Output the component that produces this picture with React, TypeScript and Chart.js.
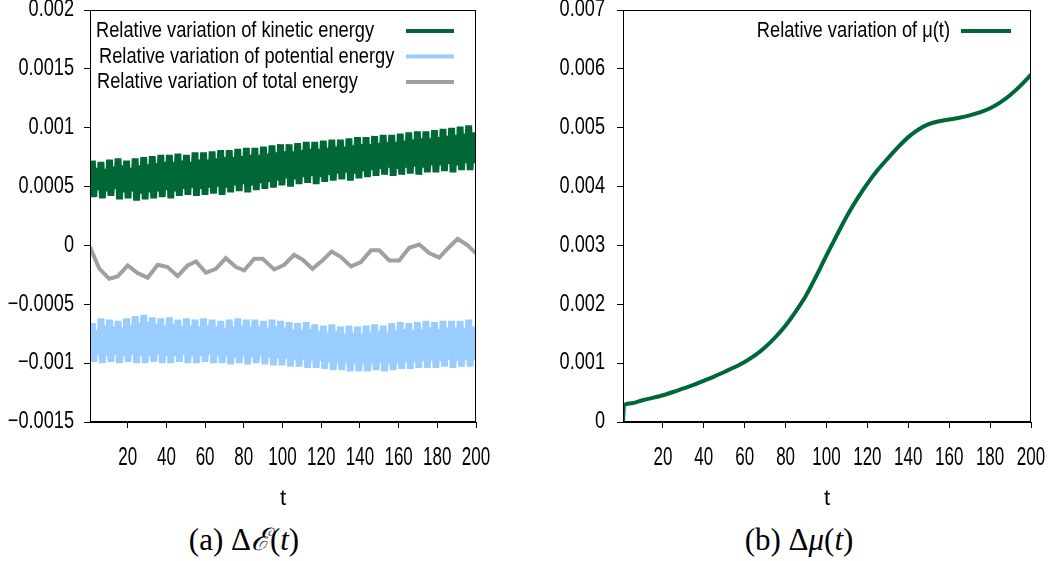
import React, { useEffect, useRef } from 'react';
import { Chart, registerables } from 'chart.js';

Chart.register(...registerables);

// ---------- data ----------
const T_START = 0.5;
const T_END = 200;
const xTicks = [20, 40, 60, 80, 100, 120, 140, 160, 180, 200];

const energyYTicks = [-0.0015, -0.001, -0.0005, 0, 0.0005, 0.001, 0.0015, 0.002];
const energyYLabels = ['−0.0015', '−0.001', '−0.0005', '0', '0.0005', '0.001', '0.0015', '0.002'];
const muYTicks = [0, 0.001, 0.002, 0.003, 0.004, 0.005, 0.006, 0.007];
const muYLabels = ['0', '0.001', '0.002', '0.003', '0.004', '0.005', '0.006', '0.007'];

// sampling of the fast oscillation of the kinetic / potential series
const oscPeriod = 4.42;
const oscFirstT = 1.0;

// tooth tips (outer envelope) per oscillation period
const kineticHigh = [0.00072, 0.00071, 0.00073, 0.00074, 0.00072, 0.00074, 0.00075, 0.00076, 0.00077, 0.00077,
  0.00078, 0.00077, 0.00079, 0.00079, 0.0008, 0.00081, 0.00081, 0.00082, 0.00083, 0.00083,
  0.00084, 0.00085, 0.00086, 0.00086, 0.00087, 0.00088, 0.00088, 0.00089, 0.0009, 0.0009,
  0.00091, 0.00092, 0.00092, 0.00093, 0.00094, 0.00094, 0.00095, 0.00096, 0.00097, 0.00097,
  0.00098, 0.00099, 0.001, 0.00101, 0.00102];
const kineticLow = [0.00041, 0.0004, 0.00042, 0.00039, 0.0004, 0.00038, 0.00039, 0.0004, 0.00041, 0.0004,
  0.00042, 0.00043, 0.00042, 0.00043, 0.00044, 0.00043, 0.00045, 0.00046, 0.00045, 0.00047,
  0.00048, 0.00049, 0.00051, 0.0005, 0.00052, 0.00053, 0.00052, 0.00054, 0.00055, 0.00056,
  0.00055, 0.00057, 0.00058, 0.00059, 0.0006, 0.00059, 0.0006, 0.00061, 0.0006, 0.00062,
  0.00062, 0.00063, 0.00062, 0.00064, 0.00064];
const kineticEnds = [0.00057, 0.00085];
const kineticToothDepth = 0.00006;

const potentialHigh = [-0.00066, -0.00062, -0.00063, -0.00064, -0.00062, -0.0006, -0.00059, -0.00061, -0.00062, -0.00061,
  -0.00063, -0.00062, -0.00063, -0.00062, -0.00063, -0.00064, -0.00063, -0.00062, -0.00063, -0.00063,
  -0.00064, -0.00063, -0.00064, -0.00065, -0.00066, -0.00065, -0.00067, -0.00068, -0.00067, -0.00069,
  -0.00068, -0.00069, -0.00068, -0.00067, -0.00068, -0.00066, -0.00065, -0.00066, -0.00065, -0.00064,
  -0.00065, -0.00064, -0.00064, -0.00064, -0.00063];
const potentialLow = [-0.00099, -0.001, -0.00099, -0.001, -0.00099, -0.001, -0.001, -0.00099, -0.001, -0.001,
  -0.00099, -0.001, -0.001, -0.00099, -0.001, -0.001, -0.00101, -0.001, -0.00101, -0.001,
  -0.00101, -0.00102, -0.00102, -0.00103, -0.00103, -0.00104, -0.00104, -0.00105, -0.00106, -0.00106,
  -0.00107, -0.00107, -0.00107, -0.00106, -0.00107, -0.00106, -0.00105, -0.00105, -0.00104, -0.00104,
  -0.00104, -0.00103, -0.00104, -0.00103, -0.00103];
const potentialEnds = [-0.00085, -0.00083];
const potentialToothDepth = 0.00006;

const totalT = [0.5, 5.3, 10.4, 14.8, 20, 25.1, 30.3, 35.5, 40.6, 45.8,
  51, 55.3, 60.4, 65.6, 70.7, 75.9, 80.2, 85.4, 89.7, 95.7,
  100.9, 106, 110.4, 115.5, 120.7, 125.4, 130.2, 135.4, 140.5, 145.7,
  150, 155.2, 160.3, 165.5, 170.7, 175.8, 181, 185.3, 190.5, 195.7, 200];
const totalValues = [-0.000014, -0.000198, -0.000283, -0.000263, -0.00017, -0.000235, -0.000274, -0.000164, -0.000184, -0.000261,
  -0.00017, -0.000136, -0.000232, -0.000198, -0.000108, -0.000184, -0.000212, -0.000113, -0.000113, -0.000204,
  -0.000164, -0.000079, -0.000121, -0.000198, -0.000127, -0.000051, -0.000099, -0.000178, -0.000142, -0.000042,
  -0.000042, -0.000127, -0.000127, -0.00002, 0.000008, -0.000065, -0.000104, -0.000028, 0.000057, 0, -0.000068];

const muT = [0.5, 1, 5, 10, 15, 20, 25, 30, 35, 40, 45, 50, 55, 60, 65, 70, 75, 80, 85, 90, 95, 100,
  105, 110, 115, 120, 125, 130, 135, 140, 145, 150, 155, 160, 165, 170, 175, 180, 185, 190, 195, 200];
const muValues = [0, 0.00029, 0.00032, 0.00037, 0.00041, 0.000455, 0.00051, 0.00057, 0.00063, 0.0007, 0.00077,
  0.00085, 0.00093, 0.00102, 0.00113, 0.00127, 0.00144, 0.00164, 0.00188, 0.00215, 0.00248, 0.00283,
  0.00317, 0.0035, 0.00379, 0.00405, 0.00428, 0.00448, 0.00467, 0.00484, 0.00497, 0.00506, 0.00511,
  0.00514, 0.00517, 0.00521, 0.00526, 0.00533, 0.00543, 0.00556, 0.00572, 0.0059];

const legendEnergy = [
  'Relative variation of kinetic energy',
  'Relative variation of potential energy',
  'Relative variation of total energy',
];
const legendMu = 'Relative variation of μ(t)';

// ---------- styles ----------
const GREEN = '#006837';
const BLUE = '#99ccff';
const GREY = '#a0a0a0';
const SANS = "'Liberation Sans', 'DejaVu Sans', sans-serif";
const SERIF = "'Liberation Serif', 'DejaVu Serif', serif";

// band of a fast oscillation: per period, two full swings to the tooth tips, then one shallower swing
function bandSeries(high: number[], low: number[], ends: number[], depth: number) {
  const pts: { x: number; y: number }[] = [{ x: T_START, y: ends[0] }];
  const step = oscPeriod / 6;
  for (let i = 0; i < high.length; i++) {
    const t0 = oscFirstT + i * oscPeriod;
    const seq = [high[i], low[i], high[i], low[i], high[i] - depth, low[i] + depth];
    seq.forEach((v, k) => pts.push({ x: t0 + k * step, y: v }));
  }
  pts.push({ x: T_END, y: ends[1] });
  return pts;
}

function pairs(xs: number[], ys: number[]) {
  return xs.map((x, i) => ({ x, y: ys[i] }));
}

function labelFor(ticks: number[], labels: string[]) {
  return (v: number) => {
    const i = ticks.findIndex((t) => Math.abs(t - v) < 1e-12);
    return i >= 0 ? labels[i] : '';
  };
}

// text drawn with a horizontal squeeze to imitate the condensed sans of the original
function drawNarrow(ctx: CanvasRenderingContext2D, text: string, x: number, y: number, size: number, sx: number, align: CanvasTextAlign) {
  ctx.save();
  ctx.font = `${size}px ${SANS}`;
  ctx.fillStyle = '#000';
  ctx.textBaseline = 'middle';
  ctx.textAlign = align;
  ctx.translate(x, y);
  ctx.scale(sx, 1);
  ctx.fillText(text, 0, 0);
  ctx.restore();
}

const frameBox = {
  id: 'frameBox',
  afterDraw(chart: any) {
    const { ctx, chartArea: a } = chart;
    ctx.save();
    ctx.strokeStyle = '#000';
    ctx.lineWidth = 1;
    const l = Math.round(a.left) + 0.5;
    const t = Math.round(a.top) + 0.5;
    const r = Math.round(a.right) - 0.5;
    const b = Math.round(a.bottom) - 0.5;
    ctx.strokeRect(l, t, r - l, b - t);
    ctx.restore();
  },
};

function makeTickLabelPlugin(yTicks: number[], yLabels: string[], yGap: number) {
  const fmt = labelFor(yTicks, yLabels);
  return {
    id: 'narrowTicks',
    afterDraw(chart: any) {
      const { ctx, chartArea: a } = chart;
      const xs = chart.scales.x;
      const ys = chart.scales.y;
      xs.ticks.forEach((t: any) => {
        drawNarrow(ctx, String(t.value), xs.getPixelForValue(t.value), a.bottom + 36, 25, 0.68, 'center');
      });
      ys.ticks.forEach((t: any) => {
        drawNarrow(ctx, fmt(t.value), a.left - yGap, ys.getPixelForValue(t.value), 23, 0.79, 'right');
      });
    },
  };
}

function makeLegendPlugin(items: { text: string; color: string; dx: number }[], align: 'left' | 'right', lineRight: number) {
  return {
    id: 'sampleLegend',
    afterDraw(chart: any) {
      const { ctx, chartArea: a } = chart;
      items.forEach((it, i) => {
        const y = a.top + 21 + i * 25.5;
        if (align === 'left') drawNarrow(ctx, it.text, a.left + it.dx, y, 22, 0.83, 'left');
        else drawNarrow(ctx, it.text, a.right - it.dx, y, 22, 0.83, 'right');
        ctx.save();
        ctx.strokeStyle = it.color;
        ctx.lineWidth = 4;
        ctx.lineCap = 'butt';
        ctx.beginPath();
        ctx.moveTo(a.right - 70, y);
        ctx.lineTo(a.right - lineRight, y);
        ctx.stroke();
        ctx.restore();
      });
    },
  };
}

function axisCommon() {
  return {
    grid: { display: true, drawOnChartArea: false, drawTicks: true, tickLength: 6, color: '#000', lineWidth: 1 },
    border: { display: true, color: '#000', width: 1 },
  };
}

function xAxis() {
  return {
    type: 'linear',
    min: T_START,
    max: T_END,
    afterBuildTicks: (s: any) => {
      s.ticks = xTicks.map((v) => ({ value: v }));
    },
    afterFit: (s: any) => {
      s.height = 98;
    },
    ...axisCommon(),
    ticks: { display: false },
    title: {
      display: true,
      text: 't',
      color: '#000',
      font: { family: SANS, size: 22 },
      padding: { top: 0, bottom: 8 },
    },
  };
}

function yAxis(min: number, max: number, ticks: number[], width: number) {
  return {
    type: 'linear',
    min,
    max,
    afterBuildTicks: (s: any) => {
      s.ticks = ticks.map((v) => ({ value: v }));
    },
    afterFit: (s: any) => {
      s.width = width;
    },
    ...axisCommon(),
    ticks: { display: false },
  };
}

function EnergyChart() {
  const ref = useRef<HTMLCanvasElement>(null);
  useEffect(() => {
    const chart = new Chart(ref.current as HTMLCanvasElement, {
      type: 'line',
      data: {
        datasets: [
          {
            label: legendEnergy[2],
            data: pairs(totalT, totalValues),
            borderColor: GREY,
            borderWidth: 4,
            pointRadius: 0,
            tension: 0,
            order: 0,
          },
          {
            label: legendEnergy[1],
            data: bandSeries(potentialHigh, potentialLow, potentialEnds, potentialToothDepth),
            borderColor: BLUE,
            borderWidth: 4,
            pointRadius: 0,
            tension: 0,
            borderJoinStyle: 'bevel',
            order: 1,
          },
          {
            label: legendEnergy[0],
            data: bandSeries(kineticHigh, kineticLow, kineticEnds, kineticToothDepth),
            borderColor: GREEN,
            borderWidth: 4,
            pointRadius: 0,
            tension: 0,
            borderJoinStyle: 'bevel',
            order: 2,
          },
        ],
      } as any,
      options: {
        animation: false,
        responsive: false,
        devicePixelRatio: 1,
        events: [],
        layout: { padding: { top: 30, right: 54, left: 0, bottom: 0 } },
        plugins: { legend: { display: false }, tooltip: { enabled: false } },
        scales: {
          x: xAxis(),
          y: yAxis(-0.0015, 0.002, energyYTicks, 90),
        },
      } as any,
      plugins: [
        frameBox,
        makeTickLabelPlugin(energyYTicks, energyYLabels, 16),
        makeLegendPlugin(
          [
            { text: legendEnergy[0], color: GREEN, dx: 6 },
            { text: legendEnergy[1], color: BLUE, dx: 9 },
            { text: legendEnergy[2], color: GREY, dx: 7 },
          ],
          'left',
          22
        ),
      ],
    });
    return () => chart.destroy();
  }, []);
  return (
    <canvas
      ref={ref}
      width={530}
      height={540}
      style={{ position: 'absolute', left: 0, top: -20, width: 530, height: 540 }}
    />
  );
}

function MuChart() {
  const ref = useRef<HTMLCanvasElement>(null);
  useEffect(() => {
    const chart = new Chart(ref.current as HTMLCanvasElement, {
      type: 'line',
      data: {
        datasets: [
          {
            label: legendMu,
            data: pairs(muT, muValues),
            borderColor: GREEN,
            borderWidth: 4,
            pointRadius: 0,
            cubicInterpolationMode: 'monotone',
          },
        ],
      } as any,
      options: {
        animation: false,
        responsive: false,
        devicePixelRatio: 1,
        events: [],
        layout: { padding: { top: 30, right: 22, left: 0, bottom: 0 } },
        plugins: { legend: { display: false }, tooltip: { enabled: false } },
        scales: {
          x: xAxis(),
          y: yAxis(0, 0.007, muYTicks, 93),
        },
      } as any,
      plugins: [
        frameBox,
        makeTickLabelPlugin(muYTicks, muYLabels, 18),
        makeLegendPlugin([{ text: legendMu, color: GREEN, dx: 81 }], 'right', 20),
      ],
    });
    return () => chart.destroy();
  }, []);
  return (
    <canvas
      ref={ref}
      width={523}
      height={540}
      style={{ position: 'absolute', left: 530, top: -20, width: 523, height: 540 }}
    />
  );
}

const captionStyle: React.CSSProperties = {
  position: 'absolute',
  top: 521,
  textAlign: 'center',
  fontFamily: SERIF,
  fontSize: 31,
  lineHeight: '38px',
  color: '#000',
  whiteSpace: 'nowrap',
};

export default function App() {
  return (
    <div style={{ position: 'absolute', left: 0, top: 0, width: 1053, height: 561, overflow: 'hidden', background: '#fff' }}>
      <EnergyChart />
      <MuChart />
      <div style={{ ...captionStyle, left: 0, width: 488 }}>
        (a) Δ<i>ℰ</i>(<i>t</i>)
      </div>
      <div style={{ ...captionStyle, left: 599, width: 400 }}>
        (b) Δ<i>μ</i>(<i>t</i>)
      </div>
    </div>
  );
}
